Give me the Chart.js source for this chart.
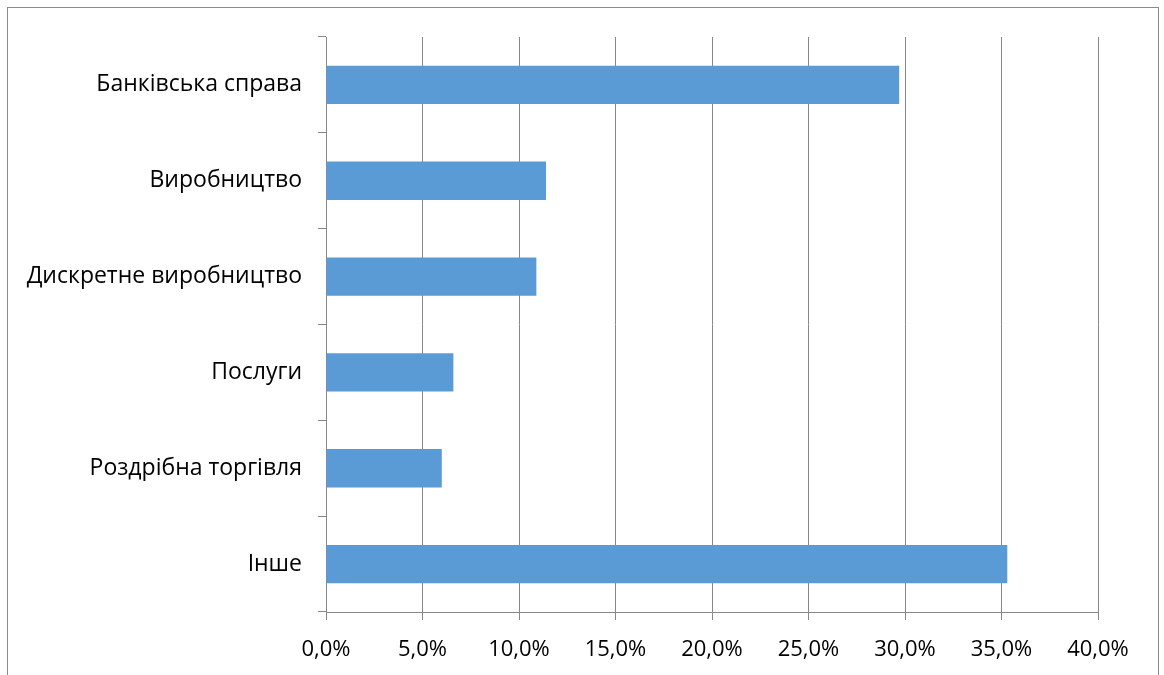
<!DOCTYPE html>
<html>
<head>
<meta charset="utf-8">
<script src="https://cdn.jsdelivr.net/npm/chart.js@4"></script>
<style>
  html, body { margin: 0; padding: 0; background: #fff; }
  #wrap { position: relative; width: 1164px; height: 675px; overflow: hidden; }
  #frame { position: absolute; left: 7px; top: 7px; width: 1152px; height: 720px; border: 1px solid #8c8c8c; box-sizing: border-box; }
  #chart { position: absolute; left: 0; top: 0; }
</style>
</head>
<body>
<div id="wrap">
  <div id="frame"></div>
  <canvas id="chart" width="1164" height="675"></canvas>
</div>
<script>
// --- data ---
const categories = ['Банківська справа', 'Виробництво', 'Дискретне виробництво', 'Послуги', 'Роздрібна торгівля', 'Інше'];
const shares = [29.7, 11.4, 10.9, 6.6, 6.0, 35.3];
const xTicks = [0, 5, 10, 15, 20, 25, 30, 35, 40];

const FONT = 'Open Sans';
const lineColor = '#888';

new Chart(document.getElementById('chart'), {
  type: 'bar',
  data: {
    labels: categories,
    datasets: [{
      data: shares,
      backgroundColor: '#5b9bd5',
      barPercentage: 0.4,
      categoryPercentage: 1
    }]
  },
  options: {
    indexAxis: 'y',
    responsive: false,
    animation: false,
    layout: { padding: { top: 37, right: 66, left: 0, bottom: 0 } },
    plugins: { legend: { display: false }, tooltip: { enabled: false } },
    scales: {
      x: {
        min: 0, max: 40,
        afterBuildTicks: s => { s.ticks = xTicks.map(v => ({ value: v })); },
        afterFit: s => { s.height = 63; },
        grid: { color: lineColor, tickLength: 8, drawTicks: true },
        border: { color: lineColor },
        ticks: {
          color: '#000', padding: 17,
          font: { family: FONT, size: 22 },
          callback: v => v.toFixed(1).replace('.', ',') + '%'
        }
      },
      y: {
        afterFit: s => { s.width = 326; },
        grid: { drawOnChartArea: false, color: lineColor, tickLength: 8 },
        border: { color: lineColor },
        ticks: { color: '#000', padding: 16, font: { family: FONT, size: 23 } }
      }
    }
  }
});
</script>
</body>
</html>
